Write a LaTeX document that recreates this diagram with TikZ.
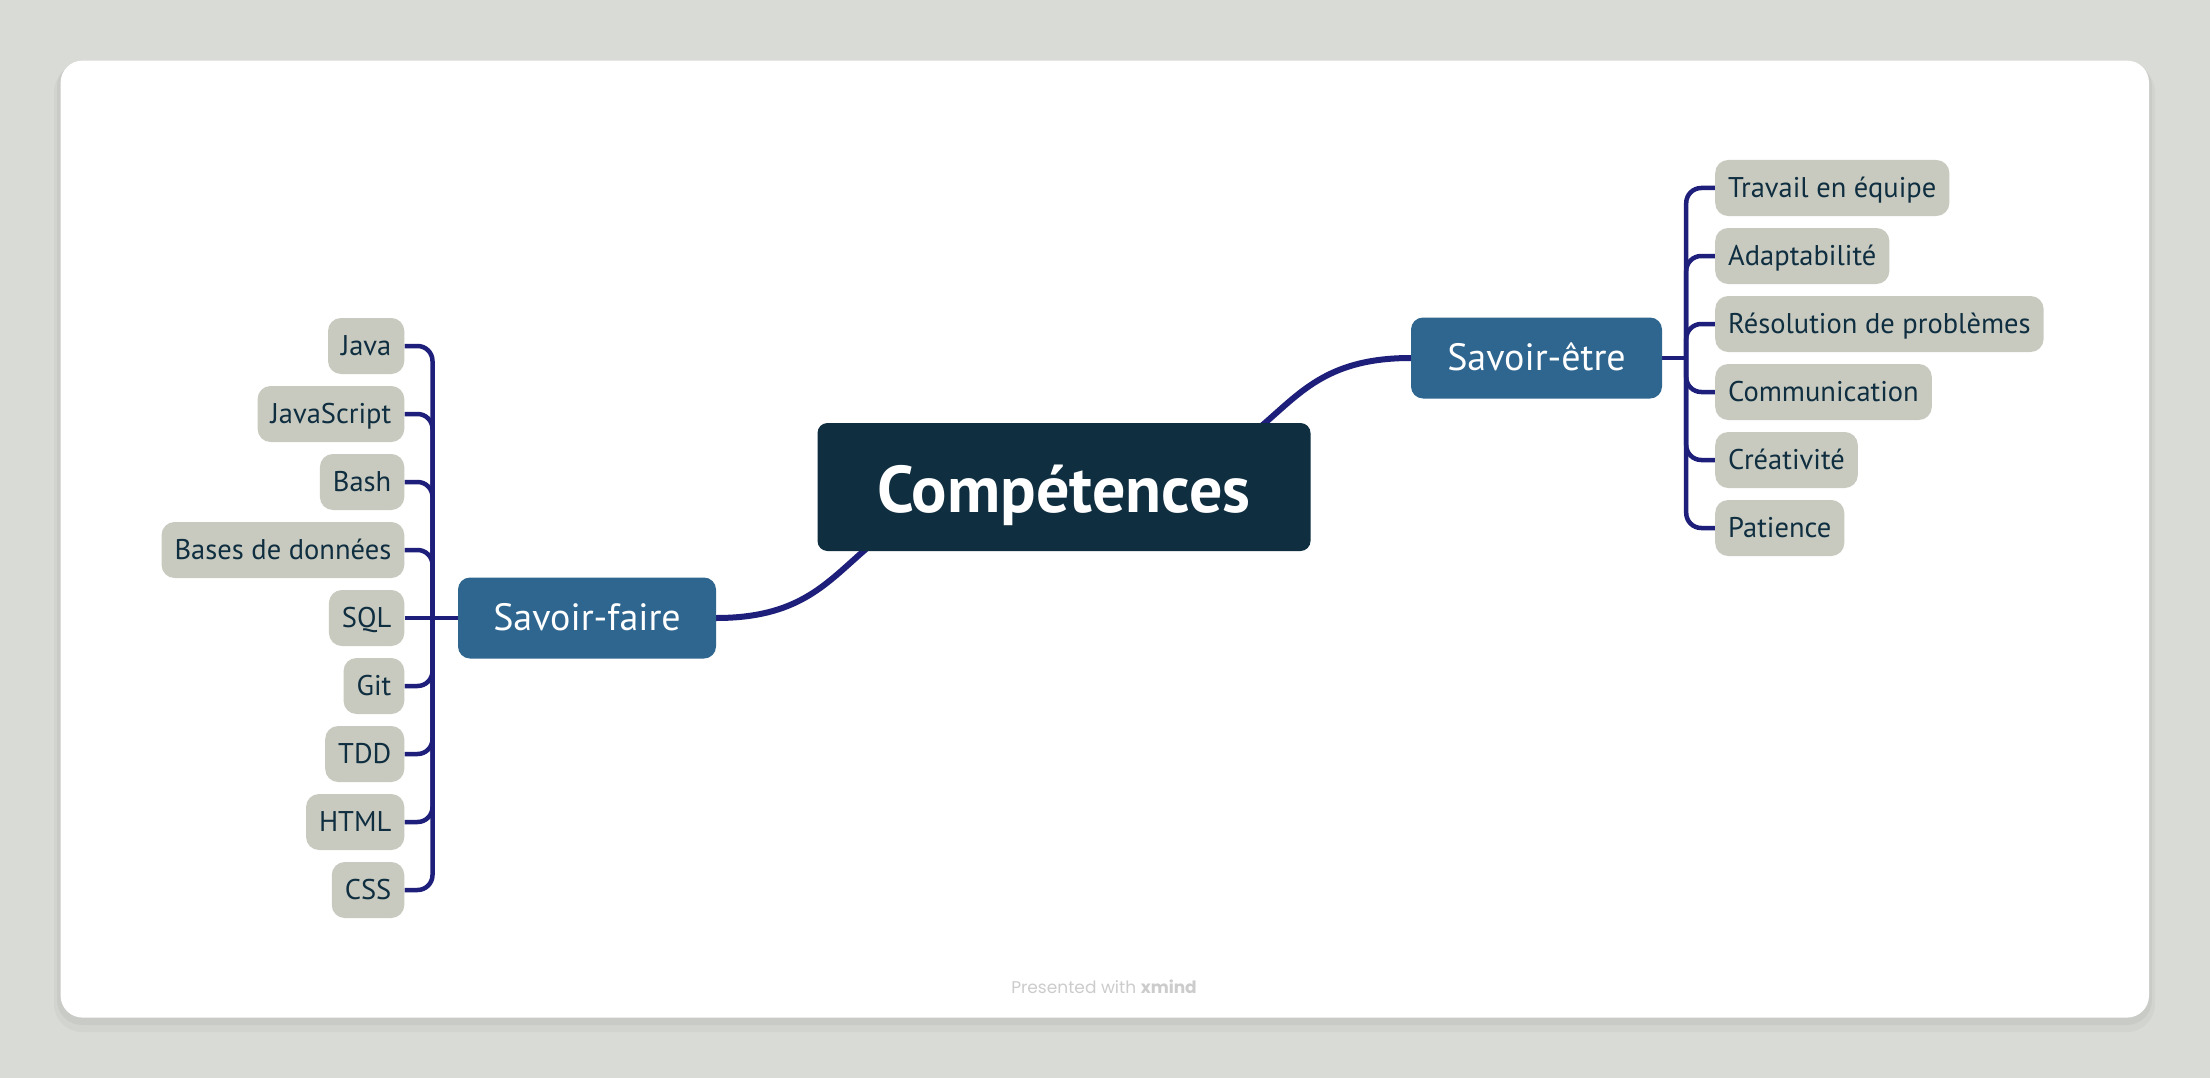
\documentclass[tikz,border=0pt]{standalone}
\usepackage{fontspec}
\setmainfont{PT Sans}
\newfontfamily\footfont{Poppins}
\usetikzlibrary{positioning, calc}
\definecolor{cardgray}{RGB}{217, 219, 214}
\definecolor{rootblue}{RGB}{15, 46, 64}
\definecolor{mainblue}{RGB}{47, 102, 144}
\definecolor{leafgray}{RGB}{200, 202, 192}
\definecolor{linkblue}{RGB}{30, 31, 122}
\definecolor{footgray}{RGB}{204, 204, 204}

\pgfdeclarelayer{card}
\pgfdeclarelayer{links}
\pgfsetlayers{card,links,main}

\tikzset{
  root/.style={fill=rootblue, text=white, rounded corners=10pt, minimum width=493pt,
    minimum height=128pt, font=\fontsize{66}{72}\selectfont\bfseries,
    text height=54pt, text depth=4pt},
  topic/.style={fill=mainblue, text=white, rounded corners=12pt, minimum height=81pt,
    font=\fontsize{38}{42}\selectfont, text height=28pt, text depth=3pt},
  leaf/.style={fill=leafgray, text=rootblue, rounded corners=13pt, minimum height=56pt,
    inner xsep=13pt, font=\fontsize{28.5}{32}\selectfont, text height=23pt, text depth=4pt},
  link/.style={draw=linkblue, line width=4.5pt, rounded corners=15pt},
  mainlink/.style={draw=linkblue, line width=6pt},
}

\begin{document}
\begin{tikzpicture}[x=1pt, y=-1pt]
  \useasboundingbox (0,0) rectangle (2210,1078);
  \begin{pgfonlayer}{card}
    \fill[cardgray] (0,0) rectangle (2210,1078);
    \fill[black, opacity=0.03, rounded corners=28pt] (54,64) rectangle (2155,1032);
    \fill[black, opacity=0.04, rounded corners=25pt] (57,62) rectangle (2152,1025);
    \fill[white, rounded corners=22pt] (60.6,60.6) rectangle (2149,1017.6);
  \end{pgfonlayer}

  % centre and main topics
  \node[root] (comp) at (1064,487) {Compétences};
  \node[topic, minimum width=251pt] (etre) at (1536.5,358) {Savoir-être};
  \node[topic, minimum width=258pt] (faire) at (587,618) {Savoir-faire};

  % savoir-etre
  \node[leaf, anchor=west] (equipe) at (1715,188) {Travail en équipe};
  \node[leaf, anchor=west] (adapt) at (1715,256) {Adaptabilité};
  \node[leaf, anchor=west] (resol) at (1715,324) {Résolution de problèmes};
  \node[leaf, anchor=west] (comm) at (1715,392) {Communication};
  \node[leaf, anchor=west] (creat) at (1715,460) {Créativité};
  \node[leaf, anchor=west] (patience) at (1715,528) {Patience};

  % savoir-faire
  \node[leaf, anchor=east] (java) at (404.5,346) {Java};
  \node[leaf, anchor=east] (js) at (404.5,414) {JavaScript};
  \node[leaf, anchor=east] (bash) at (404.5,482) {Bash};
  \node[leaf, anchor=east] (bdd) at (404.5,550) {Bases de données};
  \node[leaf, anchor=east] (sql) at (404.5,618) {SQL};
  \node[leaf, anchor=east] (git) at (404.5,686) {Git};
  \node[leaf, anchor=east] (tdd) at (404.5,754) {TDD};
  \node[leaf, anchor=east] (html) at (404.5,822) {HTML};
  \node[leaf, anchor=east] (css) at (404.5,890) {CSS};

  \node[font=\footfont\fontsize{17}{20}\selectfont, text=footgray] (foot) at (1104,987)
    {Presented with \textbf{xmind}};

  \coordinate (rstem) at ($(etre.east)+(24,0)$);
  \coordinate (lstem) at ($(faire.west)+(-25.3,0)$);

  \begin{pgfonlayer}{links}
    \draw[mainlink] (comp.center) .. controls +(236,0) and +(-161,0) .. (etre.west);
    \draw[mainlink] (comp.center) .. controls +(-236,0) and +(161,0) .. (faire.east);

    \draw[link] (etre.east) -- (rstem);
    \draw[link] (rstem) |- (equipe.west);
    \draw[link] (rstem) |- (adapt.west);
    \draw[link] (rstem) |- (resol.west);
    \draw[link] (rstem) |- (comm.west);
    \draw[link] (rstem) |- (creat.west);
    \draw[link] (rstem) |- (patience.west);

    \draw[link] (faire.west) -- (lstem);
    \draw[link] (lstem) |- (java.east);
    \draw[link] (lstem) |- (js.east);
    \draw[link] (lstem) |- (bash.east);
    \draw[link] (lstem) |- (bdd.east);
    \draw[link] (lstem) -- (sql.east);
    \draw[link] (lstem) |- (git.east);
    \draw[link] (lstem) |- (tdd.east);
    \draw[link] (lstem) |- (html.east);
    \draw[link] (lstem) |- (css.east);
  \end{pgfonlayer}
\end{tikzpicture}
\end{document}
